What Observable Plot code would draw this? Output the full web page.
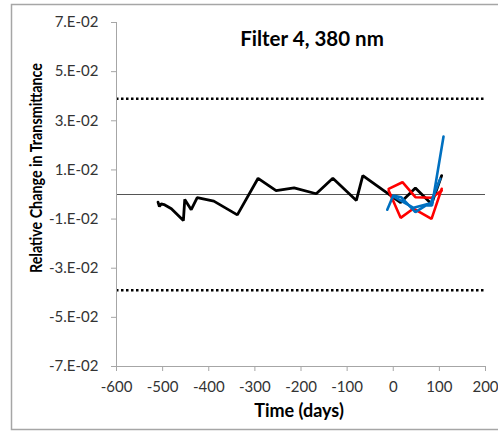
<!DOCTYPE html>
<html>
<head>
<meta charset="utf-8">
<script src="https://cdn.jsdelivr.net/npm/d3@7"></script>
<script src="https://cdn.jsdelivr.net/npm/@observablehq/plot@0.6"></script>
<style>
  html, body { margin: 0; padding: 0; background: #fff; }
  #chart svg { display: block; }
</style>
</head>
<body>
<div id="chart"></div>
<script>
const titleText = "Filter 4, 380 nm";
const xLabel = "Time (days)";
const yLabel = "Relative Change in Transmittance";
const xTicks = [-600, -500, -400, -300, -200, -100, 0, 100, 200];
const yTicks = [-0.07, -0.05, -0.03, -0.01, 0.01, 0.03, 0.05, 0.07];
const limitValues = [0.039, -0.039];

const blackDays = [-510, -507, -503, -497, -481, -455, -452, -438, -425, -389, -338, -293, -254, -215, -167, -131, -80, -66, 16, 48, 83, 105];
const blackVals = [-0.0031, -0.0049, -0.0038, -0.0041, -0.0058, -0.0106, -0.0020, -0.0062, -0.0013, -0.0027, -0.0083, 0.0066, 0.0016, 0.0027, 0.0003, 0.0066, -0.0024, 0.0077, -0.0033, 0.0026, -0.0039, 0.0077];

const red1Days = [-10, 20, 48, 83, 105];
const red1Vals = [0.0023, 0.0050, -0.0011, -0.0013, 0.0016];
const red2Days = [-10, 16, 44, 83, 105];
const red2Vals = [0.0016, -0.0095, -0.0057, -0.0099, 0.0023];

const blue1Days = [-13, 0, 17, 48, 70, 84, 109];
const blue1Vals = [-0.0062, -0.0004, -0.0011, -0.0072, -0.0045, -0.0045, 0.0236];
const blue2Days = [0, 44, 81, 102];
const blue2Vals = [-0.0008, -0.0054, -0.0036, 0.0064];

const toRows = (days, vals) => days.map((d, i) => ({day: d, val: vals[i]}));

const font = "Lato, 'Open Sans', sans-serif";
const W = 498, H = 431;
const mL = 116, mR = 13, mT = 22, mB = 65;

const fmtY = d => (d < 0 ? "-" : "") + Math.round(Math.abs(d) * 100) + ".E-02";

const plot = Plot.plot({
  width: W,
  height: H,
  marginLeft: mL,
  marginRight: mR,
  marginTop: mT,
  marginBottom: mB,
  style: {fontFamily: font, background: "#fff", overflow: "visible"},
  x: {domain: [-600, 200]},
  y: {domain: [-0.07, 0.07]},
  marks: [
    Plot.ruleY([0], {stroke: "#555", strokeWidth: 1}),
    Plot.ruleY(limitValues, {stroke: "#000", strokeWidth: 2.5, strokeDasharray: "2.5,2.5"}),
    Plot.line(toRows(blackDays, blackVals), {x: "day", y: "val", stroke: "#000", strokeWidth: 2.8, strokeLinejoin: "miter"}),
    Plot.line(toRows(red1Days, red1Vals), {x: "day", y: "val", stroke: "#ff0000", strokeWidth: 2.6, strokeLinejoin: "miter"}),
    Plot.line(toRows(red2Days, red2Vals), {x: "day", y: "val", stroke: "#ff0000", strokeWidth: 2.6, strokeLinejoin: "miter"}),
    Plot.line(toRows(blue1Days, blue1Vals), {x: "day", y: "val", stroke: "#0070c0", strokeWidth: 2.6, strokeLinejoin: "miter"}),
    Plot.line(toRows(blue2Days, blue2Vals), {x: "day", y: "val", stroke: "#0070c0", strokeWidth: 2.6, strokeLinejoin: "miter"}),
    Plot.ruleX([-600], {stroke: "#a6a6a6", strokeWidth: 1}),
    Plot.ruleY([-0.07], {stroke: "#a6a6a6", strokeWidth: 1}),
    Plot.axisY({ticks: yTicks, tickFormat: fmtY, tickSize: 5, tickPadding: 13, stroke: "#a6a6a6", fill: "#333", fontSize: 15, label: null}),
    Plot.axisX({ticks: xTicks, tickFormat: d => String(d), tickSize: 5, tickPadding: 10, stroke: "#a6a6a6", fill: "#333", fontSize: 15, label: null})
  ]
});

const svg = d3.select(plot);
svg.insert("rect", ":first-child")
  .attr("x", 11.5).attr("y", 4.5).attr("width", W - 10).attr("height", H - 6)
  .attr("fill", "none").attr("stroke", "#a6a6a6").attr("stroke-width", 1.5);
svg.append("text")
  .attr("x", 312).attr("y", 41)
  .attr("text-anchor", "middle").attr("dominant-baseline", "middle")
  .attr("font-family", font).attr("font-weight", "bold").attr("font-size", 20.5)
  .attr("fill", "#000")
  .text(titleText);
svg.append("text")
  .attr("x", 299).attr("y", 412)
  .attr("text-anchor", "middle").attr("dominant-baseline", "middle")
  .attr("font-family", font).attr("font-weight", "bold").attr("font-size", 18)
  .attr("fill", "#000")
  .text(xLabel);
svg.append("text")
  .attr("transform", "translate(38,168) rotate(-90)")
  .attr("text-anchor", "middle").attr("dominant-baseline", "middle")
  .attr("font-family", font).attr("font-weight", "bold").attr("font-size", 17.5)
  .attr("textLength", 210).attr("lengthAdjust", "spacingAndGlyphs")
  .attr("fill", "#000")
  .text(yLabel);

document.getElementById("chart").appendChild(plot);
</script>
</body>
</html>
